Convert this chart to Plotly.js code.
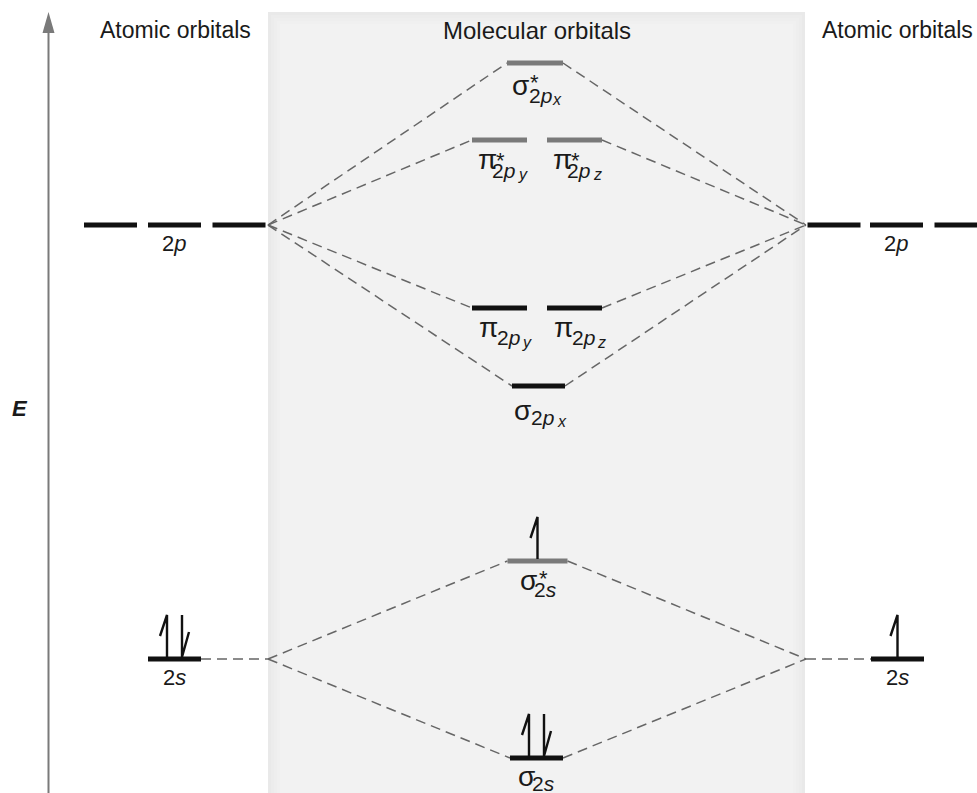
<!DOCTYPE html>
<html>
<head>
<meta charset="utf-8">
<script src="https://cdn.plot.ly/plotly-3.0.1.min.js"></script>
<style>html,body{margin:0;padding:0;background:#fff;}#chart{width:977px;height:793px;}</style>
</head>
<body>
<div id="chart"></div>
<script>
// ---------- DATA ----------
const aoNames = ['2s', '2p'];
const aoEnergy = [134, 568];
const aoDegeneracy = [1, 3];
const leftElectrons = [2, 0];
const rightElectrons = [1, 0];

const moNames = ['σ2s', 'σ*2s', 'σ2px', 'π2py', 'π2pz', 'π*2py', 'π*2pz', 'σ*2px'];
const moEnergy = [35, 232, 407, 485, 485, 653, 653, 730];
const moElectrons = [2, 1, 0, 0, 0, 0, 0, 0];
const moAntibonding = [false, true, false, false, false, true, true, true];
const moParent = ['2s', '2s', '2p', '2p', '2p', '2p', '2p', '2p'];
const moSymbol = ['σ', 'σ', 'σ', 'π', 'π', 'π', 'π', 'σ'];
const moSub = ['2<i>s</i>', '2<i>s</i>', '2<i>p</i>', '2<i>p</i>', '2<i>p</i>', '2<i>p</i>', '2<i>p</i>', '2<i>p</i>'];
const moSubSub = ['', '', 'x', 'y', 'z', 'y', 'z', 'x'];
const columnTitles = ['Atomic orbitals', 'Molecular orbitals', 'Atomic orbitals'];
const axisLabel = 'E';

// ---------- GEOMETRY (layout only) ----------
const G = {
  leftAoX: {'2s': [174.5], '2p': [110.5, 174.5, 239]},
  rightAoX: {'2s': [897.5], '2p': [834, 896.5, 961]},
  aoHalf: 26.5,
  hubL: 268, hubR: 806,
  moX: [536.5, 537.5, 538.5, 499.5, 574.5, 499.5, 574.5, 535],
  moHalf: [26.5, 30, 26.5, 27.5, 27.5, 27.5, 27.5, 28],
  connL: [true, true, true, true, false, true, false, true],
  connR: [true, true, true, false, true, false, true, true],
  // label offsets [dx, dy(px downward)] for symbol, star, sub, subsub
  offSym: [[-10, 18], [-9.5, 19], [-16, 24], [-11.5, 19], [-11.5, 19], [-12.5, 19], [-12.5, 19], [-15, 22]],
  offStar: [null, [6, 17], null, null, null, [0.5, 20], [0.5, 20], [-1, 19]],
  offSub: [[7, 25], [8, 28], [4, 31], [9, 29], [9, 29], [4, 30], [4, 30], [5, 32]],
  offSubSub: [null, null, [23, 35], [27, 34], [27, 34], [23, 34], [23, 34], [22, 36]],
  eTop: 44, eBot: 2, eSep: 7.5, barbDx: 7, barbDy: 21
};
const FONT = 'Liberation Sans, Arial, sans-serif';
const BLACK = '#111', GRAY = '#7a7a7a';

// ---------- BUILD ----------
const blackX = [], blackY = [], grayX = [], grayY = [];
function seg(xs, ys, x0, x1, y) { xs.push(x0, x1, null); ys.push(y, y, null); }

aoNames.forEach((n, i) => {
  G.leftAoX[n].forEach(cx => seg(blackX, blackY, cx - G.aoHalf, cx + G.aoHalf, aoEnergy[i]));
  G.rightAoX[n].forEach(cx => seg(blackX, blackY, cx - G.aoHalf, cx + G.aoHalf, aoEnergy[i]));
});
moNames.forEach((n, i) => {
  const cx = G.moX[i], h = G.moHalf[i];
  if (moAntibonding[i]) seg(grayX, grayY, cx - h, cx + h, moEnergy[i]);
  else seg(blackX, blackY, cx - h, cx + h, moEnergy[i]);
});

// correlation lines
const dX = [], dY = [];
moNames.forEach((n, i) => {
  const ae = aoEnergy[aoNames.indexOf(moParent[i])];
  const cx = G.moX[i], h = G.moHalf[i];
  if (G.connL[i]) { dX.push(G.hubL, cx - h, null); dY.push(ae, moEnergy[i], null); }
  if (G.connR[i]) { dX.push(cx + h, G.hubR, null); dY.push(moEnergy[i], ae, null); }
});
const e2s = aoEnergy[0];
dX.push(G.leftAoX['2s'][0] + G.aoHalf, G.hubL, null); dY.push(e2s, e2s, null);
dX.push(G.hubR, G.rightAoX['2s'][0] - G.aoHalf, null); dY.push(e2s, e2s, null);

// electrons
const eX = [], eY = [];
function electrons(cx, E, n) {
  const up = x => { eX.push(x, x, x - G.barbDx, null); eY.push(E + G.eBot, E + G.eTop, E + G.eTop - G.barbDy, null); };
  const down = x => { eX.push(x, x, x + G.barbDx, null); eY.push(E + G.eTop, E + G.eBot, E + G.eBot + G.barbDy + 4, null); };
  if (n === 1) up(cx);
  if (n === 2) { up(cx - G.eSep); down(cx + G.eSep); }
}
aoNames.forEach((n, i) => {
  electrons(G.leftAoX[n][0], aoEnergy[i], leftElectrons[i]);
  electrons(G.rightAoX[n][0], aoEnergy[i], rightElectrons[i]);
});
moNames.forEach((n, i) => electrons(G.moX[i], moEnergy[i], moElectrons[i]));

const traces = [
  {x: dX, y: dY, mode: 'lines', line: {color: '#666666', width: 1.5, dash: '10px,6px'}, hoverinfo: 'skip'},
  {x: blackX, y: blackY, mode: 'lines', line: {color: BLACK, width: 5}, hoverinfo: 'skip'},
  {x: grayX, y: grayY, mode: 'lines', line: {color: GRAY, width: 5}, hoverinfo: 'skip'},
  {x: eX, y: eY, mode: 'lines', line: {color: BLACK, width: 2.4}, hoverinfo: 'skip'}
];

// annotations
const ann = [];
function txt(x, y, text, size, extra) {
  ann.push(Object.assign({x: x, y: y, xref: 'x', yref: 'y', text: text, showarrow: false,
    font: {family: FONT, size: size, color: '#1a1a1a'}, xanchor: 'center', yanchor: 'middle'}, extra || {}));
}
aoNames.forEach((n, i) => {
  const lab = n.replace(/([a-z])/, '<i>$1</i>');
  const lx = G.leftAoX[n][n === '2p' ? 1 : 0], rx = G.rightAoX[n][n === '2p' ? 1 : 0];
  txt(lx, aoEnergy[i] - 18, lab, 22);
  txt(rx, aoEnergy[i] - 18, lab, 22);
});
moNames.forEach((n, i) => {
  const cx = G.moX[i], E = moEnergy[i];
  txt(cx + G.offSym[i][0], E - G.offSym[i][1], moSymbol[i], 28);
  if (G.offStar[i]) txt(cx + G.offStar[i][0], E - G.offStar[i][1], '*', 22);
  txt(cx + G.offSub[i][0], E - G.offSub[i][1], moSub[i], 21);
  if (G.offSubSub[i]) txt(cx + G.offSubSub[i][0], E - G.offSubSub[i][1], '<i>' + moSubSub[i] + '</i>', 16);
});
txt(175, 763, columnTitles[0], 23);
txt(537, 763, columnTitles[1], 24);
txt(897, 763, columnTitles[2], 23);
txt(20, 385, '<b><i>' + axisLabel + '</i></b>', 22);

// background panel + axis arrow
const shapes = [];
const shades = ['#e9e9e9', '#ececec', '#eeeeee', '#f0f0f0', '#f2f2f2'];
shades.forEach((c, k) => {
  shapes.push({type: 'rect', xref: 'x', yref: 'y', x0: 268 + k * 3, x1: 805 - k * 3, y0: -10, y1: 781 - k * 3,
    fillcolor: c, line: {width: 0}, layer: 'below'});
});
shapes.push({type: 'line', xref: 'x', yref: 'y', x0: 48.5, x1: 48.5, y0: -5, y1: 765, line: {color: '#7a7a7a', width: 2}});
shapes.push({type: 'path', xref: 'x', yref: 'y', path: 'M 42.5 760 L 54.5 760 L 48.5 781 Z', fillcolor: '#7a7a7a', line: {width: 0}});

const layout = {
  width: 977, height: 793,
  margin: {l: 0, r: 0, t: 0, b: 0},
  paper_bgcolor: '#ffffff', plot_bgcolor: '#ffffff',
  showlegend: false,
  xaxis: {range: [0, 977], visible: false, fixedrange: true},
  yaxis: {range: [0, 793], visible: false, fixedrange: true},
  shapes: shapes,
  annotations: ann
};
Plotly.newPlot('chart', traces, layout, {staticPlot: true});
</script>
</body>
</html>
